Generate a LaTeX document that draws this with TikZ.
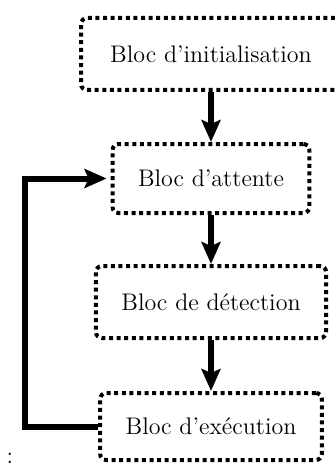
\documentclass[tikz,border=0pt]{standalone}
\usepackage{fontspec}
\usetikzlibrary{arrows.meta}
\begin{document}
\begin{tikzpicture}[x=0.5pt,y=-0.5pt,
  blk/.style={draw, line width=2pt, dash pattern=on 2pt off 1.8pt, rounded corners=3pt,
    inner xsep=12.75pt, font=\large},
  conn/.style={line width=3pt, -{Stealth[length=11pt,width=9.5pt,inset=2pt]}}]
\useasboundingbox (0,0) rectangle (335,465);
\node[blk, minimum height=36pt, minimum width=130pt] (b1) at (211,54) {Bloc d'initialisation};
\node[blk, minimum height=34.5pt] (b2) at (211,178.5) {Bloc d'attente};
\node[blk, minimum height=36pt] (b3) at (211,302) {Bloc de détection};
\node[blk, minimum height=33.5pt] (b4) at (211,426.5) {Bloc d'exécution};
\coordinate (lc) at (25,300);
\node[font=\large, anchor=base, inner sep=0pt] (colon) at (10,463) {:};
\draw[conn] (b1) -- (b2);
\draw[conn] (b2) -- (b3);
\draw[conn] (b3) -- (b4);
\draw[conn, shorten >=2pt] (b4.west) -- (b4.west -| lc) |- (b2.west);
\end{tikzpicture}
\end{document}
